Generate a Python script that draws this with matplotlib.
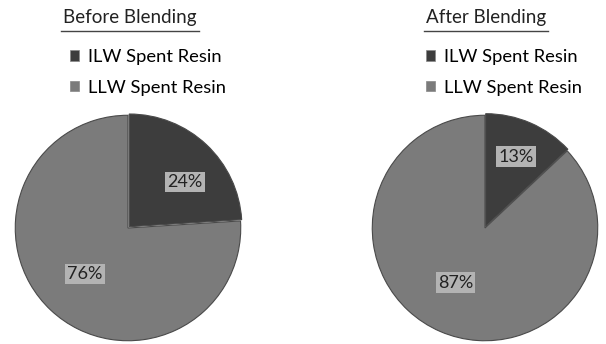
import matplotlib
matplotlib.use("Agg")
import matplotlib.pyplot as plt
import numpy as np
from matplotlib.lines import Line2D
from matplotlib.patches import Patch

categories = ["ILW Spent Resin", "LLW Spent Resin"]
before_values = [24, 76]
after_values = [13, 87]
titles = ["Before Blending", "After Blending"]

colors = ["#3d3d3d", "#7b7b7b"]
plt.rcParams["font.family"] = ["Lato", "DejaVu Sans"]

fig = plt.figure(figsize=(6.06, 3.44), dpi=100)
W, H = 606, 344

# pie centre (px), label distance and angle nudge per slice
pies = [(before_values, 128, 228, [0.65, 0.56], [-8, 0]),
        (after_values, 485, 228, [0.69, 0.55], [0, -5])]
R = 115
for i, (vals, cx, cy, dists, nudge) in enumerate(pies):
    ax = fig.add_axes([(cx - R) / W, (H - cy - R) / H, 2 * R / W, 2 * R / H])
    wedges, _ = ax.pie(vals, colors=colors, startangle=90, counterclock=False,
                       explode=[0.015, 0], radius=1,
                       wedgeprops=dict(edgecolor="#4a4a4a", linewidth=0.8))
    for w, v, d, n in zip(wedges, vals, dists, nudge):
        mid = np.deg2rad((w.theta1 + w.theta2) / 2 + n)
        ax.text(d * np.cos(mid), d * np.sin(mid), f"{v}%", ha="center", va="center",
                fontsize=13, color="#222222",
                bbox=dict(boxstyle="square,pad=0.12", fc="#b3b3b3", ec="none"))
    ax.set_xlim(-1.02, 1.02)
    ax.set_ylim(-1.02, 1.02)
    ax.set_aspect("equal")
    ax.axis("off")

    # title with underline
    tx = 130 if i == 0 else 486
    t = fig.text(tx / W, 1 - 17 / H, titles[i], ha="center", va="center",
                 fontsize=13.5, color="#222222")
    fig.canvas.draw()
    bb = t.get_window_extent()
    fig.add_artist(Line2D([bb.x0 / W - 0.004, bb.x1 / W + 0.004], [1 - 31 / H] * 2,
                          transform=fig.transFigure, color="#444444", lw=1))

    handles = [Patch(facecolor=c, edgecolor="#888888", linewidth=0.5) for c in colors]
    lx = 70 if i == 0 else 426
    fig.legend(handles, categories, loc="upper left",
               bbox_to_anchor=(lx / W, 1 - 49 / H), frameon=False,
               fontsize=13.2, handlelength=0.5, handleheight=0.5, handletextpad=0.5,
               labelspacing=0.8, borderaxespad=0, borderpad=0)

fig.savefig("out.png", dpi=100)
